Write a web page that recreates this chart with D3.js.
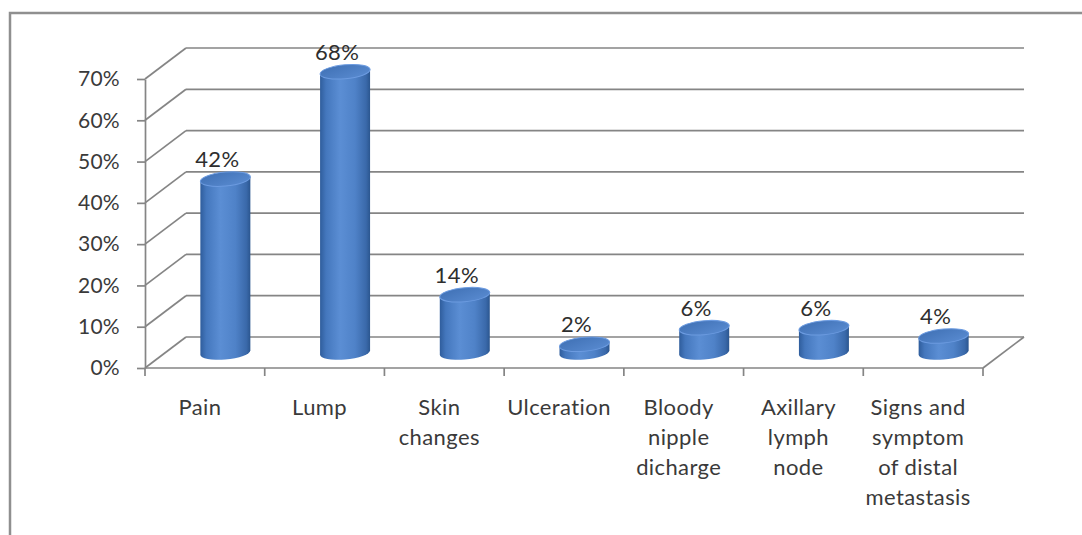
<!DOCTYPE html>
<html><head><meta charset="utf-8">
<script src="https://cdn.jsdelivr.net/npm/d3@7"></script>
<style>html,body{margin:0;padding:0;background:#fff;}svg{display:block;}</style>
</head><body>
<svg id="chart" width="1082" height="535"></svg>
<script>
const categories = ["Pain", "Lump", "Skin changes", "Ulceration", "Bloody nipple dicharge", "Axillary lymph node", "Signs and symptom of distal metastasis"];
const categoryLines = [["Pain"], ["Lump"], ["Skin", "changes"], ["Ulceration"], ["Bloody", "nipple", "dicharge"], ["Axillary", "lymph", "node"], ["Signs and", "symptom", "of distal", "metastasis"]];
const values = [0.42, 0.68, 0.14, 0.02, 0.06, 0.06, 0.04];
const valueLabels = ["42%", "68%", "14%", "2%", "6%", "6%", "4%"];
const yTicks = [0, 0.1, 0.2, 0.3, 0.4, 0.5, 0.6, 0.7];

const svg = d3.select("#chart");
const FONT = "Lato, 'Open Sans', sans-serif";
const DX = 41, DY = -31;           // depth offset of the back wall
const x = d3.scaleBand().domain(categories).range([145, 983]).padding(0);
const y = d3.scaleLinear().domain([0, 0.7]).range([368, 79]);

// outer frame
svg.append("rect").attr("x", 10).attr("y", 13).attr("width", 1100).attr("height", 600)
  .attr("fill", "#fff").attr("stroke", "#8f8f8f").attr("stroke-width", 2.5);

const grid = svg.append("g").attr("stroke", "#858585").attr("stroke-width", 1.7).attr("fill", "none");
yTicks.forEach(t => {
  grid.append("line").attr("x1", 145 + DX).attr("x2", 983 + DX)
    .attr("y1", y(t) + DY).attr("y2", y(t) + DY);
  grid.append("line").attr("x1", 145).attr("x2", 145 + DX)
    .attr("y1", y(t)).attr("y2", y(t) + DY);
});
grid.append("line").attr("x1", 983).attr("y1", y(0)).attr("x2", 983 + DX).attr("y2", y(0) + DY);

// y axis
const yAxis = d3.axisLeft(y).tickValues(yTicks).tickFormat(d3.format(".0%"))
  .tickSize(8).tickSizeOuter(0).tickPadding(17);
const gy = svg.append("g").attr("transform", "translate(145,0)").call(yAxis);
gy.selectAll("path,line").attr("stroke", "#858585").attr("stroke-width", 1.7);
gy.selectAll("text").attr("font-family", FONT).attr("font-size", 21).attr("fill", "#3a3a3a")
  .attr("letter-spacing", 0.3);

// x axis
const gx = svg.append("g").attr("transform", `translate(0,${y(0)})`);
gx.append("line").attr("x1", 145).attr("x2", 983).attr("stroke", "#858585").attr("stroke-width", 1.7);
const bounds = categories.map(c => x(c)).concat([x.range()[1]]);
gx.selectAll("line.tk").data(bounds).join("line").attr("class", "tk")
  .attr("x1", d => d).attr("x2", d => d).attr("y1", 0).attr("y2", 8)
  .attr("stroke", "#858585").attr("stroke-width", 1.7);
const labels = svg.append("g").attr("font-family", FONT).attr("font-size", 22).attr("fill", "#3a3a3a")
  .attr("text-anchor", "middle").attr("letter-spacing", 0.4);
categories.forEach((c, i) => {
  const cxl = x(c) + x.bandwidth() / 2 - 5;
  const t = labels.append("text").attr("x", cxl).attr("y", 415);
  categoryLines[i].forEach((ln, j) => {
    t.append("tspan").attr("x", cxl).attr("dy", j === 0 ? 0 : 30).text(ln);
  });
});

// gradients
const defs = svg.append("defs");
const g1 = defs.append("linearGradient").attr("id", "body").attr("x1", 0).attr("x2", 1).attr("y1", 0).attr("y2", 0);
[[0, "#2f5d9c"], [0.12, "#4477bd"], [0.4, "#5b8ed4"], [0.7, "#4f82c8"], [0.92, "#3a69aa"], [1, "#2b568f"]]
  .forEach(([o, c]) => g1.append("stop").attr("offset", o).attr("stop-color", c));
const g2 = defs.append("linearGradient").attr("id", "top").attr("x1", 0).attr("x2", 1).attr("y1", 0).attr("y2", 1);
[[0, "#3f70b4"], [1, "#5a8cd2"]].forEach(([o, c]) => g2.append("stop").attr("offset", o).attr("stop-color", c));

// cylinders
const R = 25, RY = 7;
const bars = svg.append("g");
categories.forEach((c, i) => {
  const cx = x(c) + x.bandwidth() / 2 + DX / 2;
  const yb = y(0) + DY / 2;
  const yt = y(values[i]) + DY / 2;
  const h = yb - yt;
  const g = bars.append("g").attr("transform", `translate(${cx},${yb}) skewY(-5)`);
  g.append("path")
    .attr("d", `M${-R},${-h} L${-R},0 A${R},${RY} 0 0 0 ${R},0 L${R},${-h} Z`)
    .attr("fill", "url(#body)");
  g.append("ellipse").attr("cx", 0).attr("cy", -h).attr("rx", R).attr("ry", RY)
    .attr("fill", "url(#top)").attr("stroke", "#6c9be0").attr("stroke-width", 1);
  svg.append("text").attr("x", cx - 8).attr("y", yt - 12)
    .attr("text-anchor", "middle").attr("font-family", FONT).attr("font-size", 22)
    .attr("letter-spacing", 0.4).attr("fill", "#2e2e2e").text(valueLabels[i]);
});
</script>
</body></html>
